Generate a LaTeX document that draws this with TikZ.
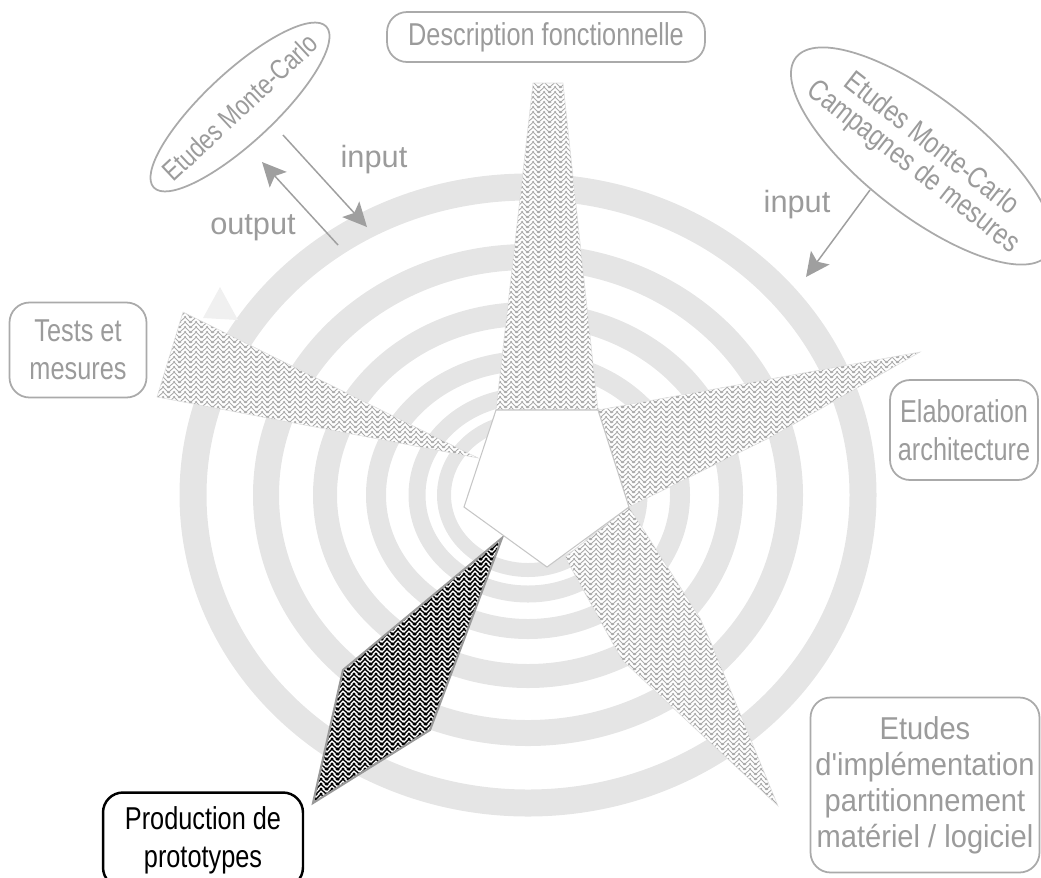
\documentclass[tikz,border=0pt]{standalone}
\usepackage{fontspec}
\setmainfont{Liberation Sans}[FakeStretch=0.8]
\newfontfamily\plainsans{Liberation Sans}
\newfontfamily\implfont{Liberation Sans}[FakeStretch=0.92]
\usetikzlibrary{arrows.meta, patterns}

\definecolor{labelgray}{RGB}{155,155,155}
\definecolor{linegray}{RGB}{170,170,170}
\definecolor{ringgray}{RGB}{229,229,229}
\definecolor{hatchgray}{RGB}{170,170,170}

% motifs en chevrons (fin et epais)
\newcommand{\declarechevrons}[2]{%
	\pgfdeclarepatternformonly{#1}{\pgfqpoint{0pt}{0pt}}{\pgfqpoint{6pt}{2.6pt}}{\pgfqpoint{6pt}{2.6pt}}{
		\pgfsetlinewidth{#2}
		\pgfsetmiterjoin
		\foreach \k in {-2,-1,0,1} {
			\pgfpathmoveto{\pgfpoint{-3pt}{\k*2.6pt+3pt}}
			\pgfpathlineto{\pgfpoint{0pt}{\k*2.6pt}}
			\pgfpathlineto{\pgfpoint{3pt}{\k*2.6pt+3pt}}
			\pgfpathlineto{\pgfpoint{6pt}{\k*2.6pt}}
			\pgfpathlineto{\pgfpoint{9pt}{\k*2.6pt+3pt}}
		}
		\pgfusepath{stroke}
	}%
}
\declarechevrons{chevrons}{0.55pt}
\declarechevrons{boldchevrons}{0.85pt}

\tikzset{
	ring/.style={draw=ringgray},
	arm/.style={draw=gray!25, line width=0.3pt, preaction={fill=white}, pattern=chevrons, pattern color=hatchgray},
	armdone/.style={draw=gray!80, line width=1.2pt, preaction={fill=white}, pattern=boldchevrons, pattern color=black},
	penta/.style={draw=gray!45, line width=0.6pt, fill=white},
	box/.style={draw=linegray, line width=1pt, rounded corners=0.4cm, text=labelgray, align=center, inner sep=0pt, font=\fontsize{18}{21.5}\selectfont},
	mcarlo/.style={text=labelgray, align=center, inner sep=0pt},
	flow/.style={draw=gray!75, line width=0.85pt, -{Stealth[length=0.48cm, width=0.46cm, inset=0.1cm]}},
	flowlabel/.style={text=labelgray, inner sep=0pt, font=\plainsans\fontsize{17.5}{20}\selectfont}
}

\begin{document}
\begin{tikzpicture}[x=0.02cm, y=-0.02cm]
	\useasboundingbox (0,0) rectangle (1041,877);

	% Anneaux concentriques
	\coordinate (ringc) at (528,495);
	\foreach \rx/\ry/\w in {335/308/27, 262/238/26, 203/181/24, 152/134/20, 111/99/17, 84/75/14} {
		\draw[ring, line width=\w*0.02cm] (ringc) ellipse [x radius=\rx*0.02cm, y radius=\ry*0.02cm];
	}

	% Pentagone central
	\coordinate (p1) at (496,410);
	\coordinate (p2) at (598,410);
	\coordinate (p3) at (629,507);
	\coordinate (p4) at (547,567);
	\coordinate (p5) at (464,507);

	% Branches de l'etoile
	\fill[gray!12] (203,318) -- (220,287) -- (238,320) -- cycle;
	\draw[arm] (p1) -- (533,83) -- (563,83) -- (p2) -- cycle;
	\draw[arm] (p2) -- (920,352) -- (773,436) -- (p3) -- cycle;
	\draw[arm] (565,557) -- (p3) -- (700,618) -- (712,645) -- (778,806) -- (622,660) -- cycle;
	\draw[arm] (478,458) -- (183,312) -- (157,397) -- cycle;
	\draw[armdone] (502,538) -- (430,730) -- (313,803) -- (343,670) -- cycle;

	\draw[penta] (p1) -- (p2) -- (p3) -- (p4) -- (p5) -- cycle;

	% Etapes
	\node[box, minimum width=6.36cm, minimum height=1cm] (desc) at (546,37) {Description fonctionnelle};
	\node[box, minimum width=2.74cm, minimum height=1.9cm] (tests) at (78,350) {Tests et\\mesures};
	\node[box, minimum width=2.96cm, minimum height=2cm] (elab) at (964,430) {Elaboration\\architecture};
	\node[box, minimum width=4.58cm, minimum height=3.5cm, font=\implfont\fontsize{18}{20.5}\selectfont] (impl) at (925,785)
		{Etudes\\d'implémentation\\partitionnement\\matériel / logiciel};
	\node[box, draw=black, text=black, line width=1.4pt, minimum width=4cm, minimum height=1.9cm] (proto) at (203,840)
		{Production de\\prototypes};

	% Etudes Monte-Carlo
	\node[mcarlo, rotate=43, font=\fontsize{16}{17}\selectfont] (mc1) at (240,107) {Etudes Monte-Carlo};
	\draw[draw=linegray, line width=1pt, rotate around={43:(mc1.center)}] (mc1.center) ellipse [x radius=2.36cm, y radius=0.7cm];
	\node[mcarlo, rotate=-38, font=\fontsize{17}{16.5}\selectfont] (mc2) at (922,156) {Etudes Monte-Carlo\\Campagnes de mesures};
	\draw[draw=linegray, line width=1pt, rotate around={-38:(mc2.center)}] (mc2.center) ellipse [x radius=3.2cm, y radius=1.16cm];

	% Entrees / sorties
	\coordinate (in1s) at (283,135);
	\coordinate (in1e) at (367,227);
	\coordinate (out1s) at (338,245);
	\coordinate (out1e) at (262,162);
	\coordinate (in2s) at (870,190);
	\coordinate (in2e) at (806,277);
	\draw[flow] (in1s) -- (in1e);
	\draw[flow] (out1s) -- (out1e);
	\draw[flow] (in2s) -- (in2e);
	\node[flowlabel] (lin1) at (374,160) {input};
	\node[flowlabel] (lout1) at (253,228) {output};
	\node[flowlabel] (lin2) at (797,205) {input};
\end{tikzpicture}
\end{document}
